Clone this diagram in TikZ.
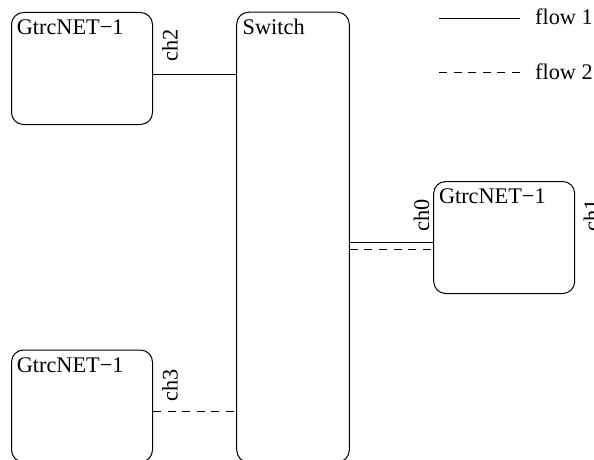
\documentclass[tikz,border=0pt]{standalone}
\usepackage{fontspec}
\setmainfont{Liberation Serif}
\usepackage{tikz}
\usetikzlibrary{calc}
\tikzset{>=latex}
\tikzstyle{unit}=[draw,rounded corners=12pt,minimum width=141pt,minimum height=112pt,line width=1pt]
\tikzstyle{unitname}=[anchor=base west,inner sep=0]
\tikzstyle{chname}=[rotate=90,anchor=base west,inner sep=0]
\tikzstyle{flow one}=[line width=1pt]
\tikzstyle{flow two}=[line width=1pt,dash pattern=on 8pt off 6.6pt]

\begin{document}
\begin{tikzpicture}[x=1pt, y=-1pt, every node/.style={font=\fontsize{22.3}{26}\selectfont}]

\useasboundingbox (0,0) rectangle (594,460);
\clip (0,0) rectangle (594,460);

\foreach \n/\p in {2/{(82,68.5)}, 3/{(82,406)}, 0/{(504.2,237.5)}}
  \node [unit] (gtrc-\n) at \p {};

\node [unit, minimum width=112.6pt, minimum height=450pt] (switch) at (293,237.2) {};

\foreach \n in {2,3,0} % unit names
  \node [unitname] at ([shift={(5.6,22.7)}]gtrc-\n.north west) {GtrcNET−1};
\node [unitname] (switch-name) at ([shift={(6.3,22.7)}]switch.north west) {Switch};

% channels
\draw [flow one] ([yshift=-5.5pt]gtrc-2.east) coordinate (p-2) -- (p-2 -| switch.west);
\draw [flow two] ([yshift=-5.5pt]gtrc-3.east) coordinate (p-3) -- (p-3 -| switch.west);
\draw [flow one] ([yshift=-5.2pt]gtrc-0.west) coordinate (p-0) -- (p-0 -| switch.east);
\draw [flow two] ([yshift=-11.5pt]gtrc-0.west -| switch.east) coordinate (q-0) -- (q-0 -| gtrc-0.west);

\node [chname] (ch2) at ([shift={(24.7,-12.3)}]p-2) {ch2};
\node [chname] (ch3) at ([shift={(24.7,-10)}]p-3) {ch3};
\node [chname] (ch0) at ([shift={(-4,-11)}]p-0) {ch0};
\node [chname] (ch1) at ([shift={(24,-5.5)}]gtrc-0.east) {ch1};

% legend
\node [anchor=base west, inner sep=0] (flow-1) at (535,25) {flow 1};
\node [anchor=base west, inner sep=0] (flow-2) at (535,80) {flow 2};
\coordinate (l-1) at (439,18.3);
\coordinate (l-2) at (439,72.7);
\draw [flow one] (l-1) -- (l-1 -| 520,0);
\draw [flow two] (l-2) -- (l-2 -| 520,0);

\end{tikzpicture}
\end{document}
